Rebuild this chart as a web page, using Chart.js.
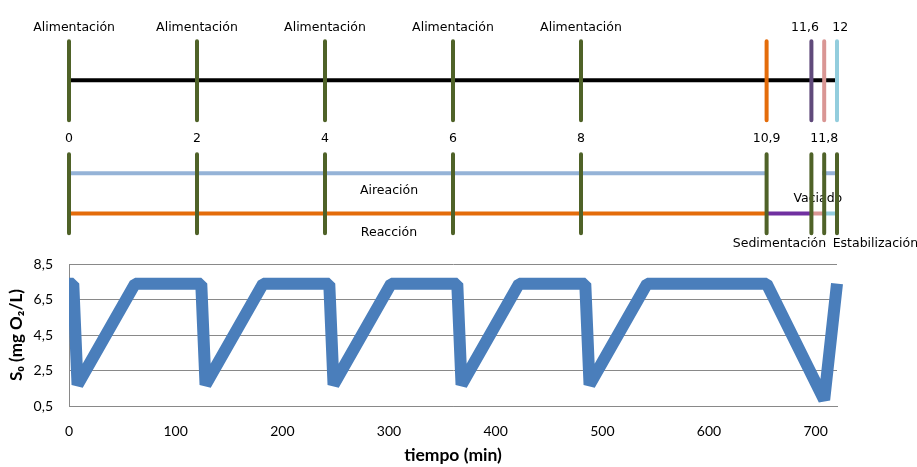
<!DOCTYPE html>
<html lang="es">
<head>
<meta charset="utf-8">
<title>Ciclo SBR - oxígeno disuelto</title>
<script src="https://cdn.jsdelivr.net/npm/chart.js@4.4.1/dist/chart.umd.min.js"></script>
<style>
  html, body { margin: 0; padding: 0; background: #fff; }
  #chart { display: block; }
</style>
</head>
<body>
<canvas id="chart" width="917" height="467"></canvas>
<script>
'use strict';

// ciclo del reactor (horas)
const feedHours = [0, 2, 4, 6, 8];
const stageHours = [10.9, 11.6, 11.8, 12]; // fin reacción, fin sedimentación, fin vaciado, fin ciclo
const feedLabel = 'Alimentación';
const feedLabelAt = [0.08, 2, 4, 6, 8];
const topLabels = ['11,6', '12'];
const topLabelAt = [11.5, 12.05];
const hourLabels = ['0', '2', '4', '6', '8', '10,9', '11,8'];
const hourLabelAt = [0, 2, 4, 6, 8, 10.9, 11.8];
const phaseNames = ['Aireación', 'Reacción', 'Vaciado', 'Sedimentación', 'Estabilización'];
const phaseNameAt = [5, 5, 11.7, 11.1, 12.6];

// oxígeno disuelto (min, mg O2/L)
const timeMin = [0, 4, 8, 62, 124, 128, 182, 244, 248, 302, 364, 368, 422, 484, 488, 542, 654, 708, 720];
const oxygen = [7.4, 7.4, 1.7, 7.4, 7.4, 1.7, 7.4, 7.4, 1.7, 7.4, 7.4, 1.7, 7.4, 7.4, 1.7, 7.4, 7.4, 0.85, 7.4];
const xTicks = [0, 100, 200, 300, 400, 500, 600, 700];
const yTicks = [0.5, 2.5, 4.5, 6.5, 8.5];

// estilo / posiciones del esquema superior (unidades del eje yTop)
const green = '#4F6228';
const stageColors = ['#E46C0A', '#604A7B', '#D99694', '#93CDDD'];
const reactColors = ['#E46C0A', '#7030A0', '#D99694', '#93CDDD'];
const lv = {
  topText: 22.5, upLo: 33, upHi: 112, black: 72, numText: 133.5,
  lowLo: 146, lowHi: 225, air: 165, react: 205.3
};
const phaseLevel = [186, 228, 193.5, 238.5, 238.5];
const textFont = '12.5px "DejaVu Sans"';
const axisGrey = '#898989';

function vlines(hours, lo, hi) {
  let pts = [];
  hours.forEach(h => {
    pts.push({x: h, y: lo}, {x: h, y: hi}, {x: h, y: null});
  });
  return pts;
}

function hline(from, to, level) {
  return [{x: from, y: level}, {x: to, y: level}];
}

function schematic(data, color, extra) {
  return Object.assign({
    type: 'line',
    data: data,
    xAxisID: 'xh',
    yAxisID: 'yTop',
    borderColor: color,
    borderWidth: 4,
    borderCapStyle: 'round',
    pointRadius: 0,
    spanGaps: false,
    fill: false,
    clip: false,
    order: 1
  }, extra || {});
}

let datasets = [];
// líneas verticales (encima de las horizontales)
datasets.push(schematic(vlines(feedHours, lv.upLo, lv.upHi), green, {order: 0}));
stageHours.forEach((h, i) => {
  datasets.push(schematic(vlines([h], lv.upLo, lv.upHi), stageColors[i], {order: 0}));
});
datasets.push(schematic(vlines(feedHours.concat(stageHours), lv.lowLo, lv.lowHi), green, {order: 0}));
// líneas horizontales
datasets.push(schematic(hline(0, stageHours[3], lv.black), '#000000', {borderCapStyle: 'butt'}));
datasets.push(schematic(hline(0, stageHours[0], lv.air), '#95B3D7', {borderCapStyle: 'butt'}));
datasets.push(schematic(hline(stageHours[2], stageHours[3], lv.air), '#95B3D7', {borderCapStyle: 'square'}));
datasets.push(schematic(hline(0, stageHours[0], lv.react), reactColors[0], {borderCapStyle: 'butt'}));
for (let i = 1; i < stageHours.length; i++) {
  datasets.push(schematic(hline(stageHours[i - 1], stageHours[i], lv.react), reactColors[i],
    {borderCapStyle: i === stageHours.length - 1 ? 'square' : 'butt'}));
}
// oxígeno disuelto
datasets.push({
  type: 'line',
  data: timeMin.map((t, i) => ({x: t, y: oxygen[i]})),
  xAxisID: 'x',
  yAxisID: 'y',
  borderColor: '#4A7EBB',
  borderWidth: 12,
  borderJoinStyle: 'bevel',
  pointRadius: 0,
  fill: false,
  clip: {left: 0, top: false, right: false, bottom: false},
  order: 2
});

const phaseText = {
  id: 'phaseText',
  beforeDatasetsDraw(chart) {
    const {ctx} = chart;
    const xh = chart.scales.xh;
    const yTop = chart.scales.yTop;
    ctx.save();
    ctx.font = textFont;
    ctx.fillStyle = '#000';
    ctx.textAlign = 'center';
    ctx.textBaseline = 'alphabetic';
    const put = (text, h, level) => ctx.fillText(text, xh.getPixelForValue(h), yTop.getPixelForValue(level));
    feedLabelAt.forEach(h => put(feedLabel, h, lv.topText));
    topLabels.forEach((t, i) => put(t, topLabelAt[i], lv.topText));
    hourLabels.forEach((t, i) => put(t, hourLabelAt[i], lv.numText));
    phaseNames.forEach((t, i) => put(t, phaseNameAt[i], phaseLevel[i]));
    ctx.restore();
  }
};

const config = {
  type: 'line',
  data: {datasets: datasets},
  plugins: [phaseText],
  options: {
    responsive: false,
    animation: false,
    devicePixelRatio: 1,
    events: [],
    layout: {padding: {top: 0, left: 0, right: 80, bottom: 1}},
    plugins: {
      legend: {display: false},
      tooltip: {enabled: false}
    },
    scales: {
      x: {
        type: 'linear',
        position: 'bottom',
        min: 0,
        max: 720,
        afterBuildTicks: (s) => { s.ticks = xTicks.map(v => ({value: v})); },
        afterFit: (s) => { s.height = 60; },
        grid: {display: false},
        border: {color: axisGrey},
        ticks: {padding: 9, color: '#000', maxRotation: 0, font: {family: 'Lato', size: 14}},
        title: {
          display: true,
          text: 'tiempo (min)',
          color: '#000',
          font: {family: 'Lato', size: 17.5, weight: 'bold'},
          padding: {top: 6, bottom: 0}
        }
      },
      xh: {type: 'linear', display: false, min: 0, max: 12},
      yTop: {
        type: 'linear',
        display: false,
        position: 'left',
        stack: 'v',
        stackWeight: 256,
        weight: 1,
        min: 0,
        max: 256,
        reverse: true
      },
      y: {
        type: 'linear',
        position: 'left',
        stack: 'v',
        stackWeight: 142,
        weight: 0,
        min: 0.5,
        max: 8.5,
        afterBuildTicks: (s) => { s.ticks = yTicks.map(v => ({value: v})); },
        afterFit: (s) => { s.width = 69; },
        grid: {color: axisGrey, drawTicks: true, tickLength: 16, tickColor: 'rgba(0,0,0,0)'},
        border: {color: axisGrey},
        ticks: {
          padding: 0,
          color: '#000',
          font: {family: 'Lato', size: 14},
          callback: (v) => v.toFixed(1).replace('.', ',')
        },
        title: {
          display: true,
          text: 'S₀ (mg O₂/L)',
          color: '#000',
          font: {family: 'Lato', size: 17, weight: 'bold'},
          padding: {top: 6, bottom: 0}
        }
      }
    }
  }
};

const myChart = new Chart(document.getElementById('chart'), config);
</script>
</body>
</html>
